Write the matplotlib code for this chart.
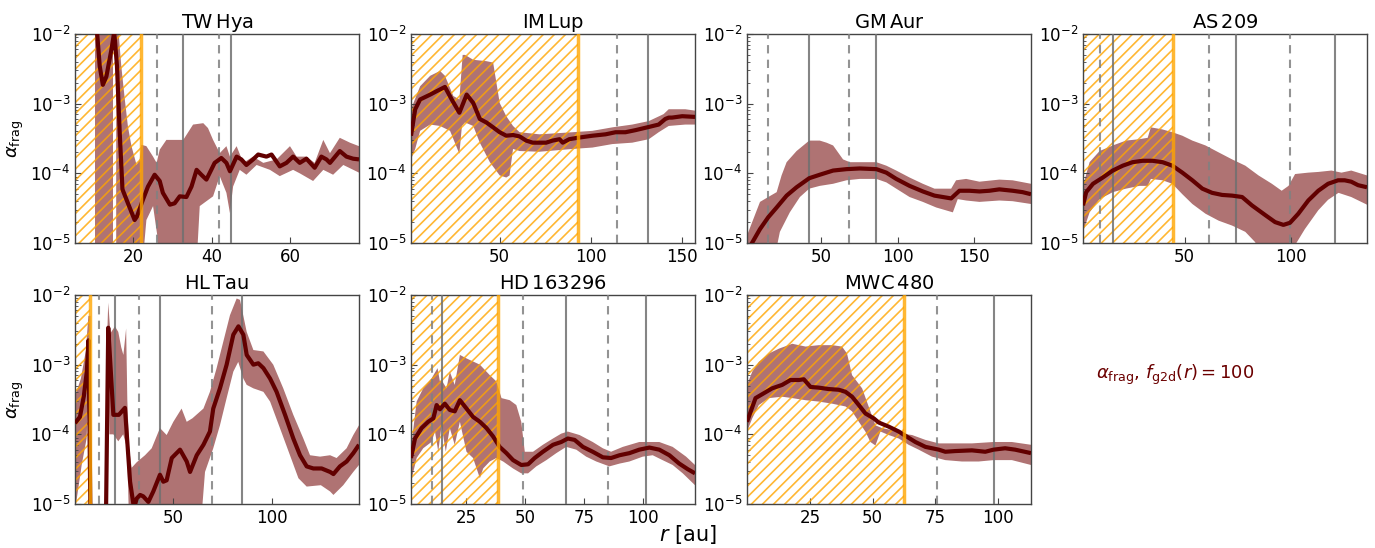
import numpy as np
import matplotlib
matplotlib.use('Agg')
import matplotlib.pyplot as plt
from matplotlib.ticker import LogLocator, NullFormatter, FixedLocator

plt.rcParams['font.family'] = ['DejaVu Sans']
plt.rcParams['mathtext.fontset'] = 'dejavusans'
plt.rcParams['hatch.linewidth'] = 1.2

# ---------------- data: pairs of (r [au], log10 alpha_frag) ----------------
# TW Hya
twhya_line = [(10.3, -1.6), (11.5, -2.46), (12.3, -2.73), (13.2, -2.61), (14.5, -2.22), (15.2, -1.97),
              (15.9, -2.46), (16.6, -3.42), (17.3, -4.23), (18.7, -4.43), (20.4, -4.67), (21.0, -4.62),
              (22.5, -4.38), (23.8, -4.19), (25.5, -4.02), (26.8, -4.11), (27.6, -4.28), (29.4, -4.45),
              (30.6, -4.43), (31.9, -4.33), (33.6, -4.34), (34.9, -4.19), (36.2, -3.95), (37.4, -4.02),
              (38.7, -4.09), (40.8, -3.85), (42.5, -3.78), (43.8, -3.85), (44.7, -3.97), (46.4, -3.76),
              (47.6, -3.80), (48.9, -3.88), (50.6, -3.80), (51.9, -3.73), (54.0, -3.76), (55.3, -3.73),
              (57.4, -3.90), (59.1, -3.85), (60.8, -3.76), (62.5, -3.85), (64.2, -3.79), (66.3, -3.92),
              (68.0, -3.76), (69.3, -3.80), (70.2, -3.85), (72.7, -3.68), (74.4, -3.76), (76.1, -3.79),
              (77.6, -3.80)]
twhya_band1_hi = [(10.2, -1.5), (14.9, -1.5)]
twhya_band1_lo = [(10.2, -5.5), (14.9, -5.5)]
twhya_band2_hi = [(15.7, -1.5), (16.2, -1.9), (17.0, -2.46), (17.9, -2.94), (18.7, -3.33), (19.6, -3.61),
                  (20.9, -3.88), (21.7, -3.80), (22.1, -3.59), (23.4, -3.61), (25.1, -3.76), (26.0, -3.85),
                  (26.8, -3.66), (28.5, -3.52), (32.8, -3.52), (35.3, -3.30), (37.9, -3.28), (39.1, -3.35),
                  (40.4, -3.52), (42.1, -3.71), (43.8, -3.61), (44.7, -3.76), (46.4, -3.61), (48.1, -3.85),
                  (50.6, -3.76), (53.2, -3.85), (56.6, -3.80), (60.0, -3.61), (61.7, -3.76), (64.2, -3.76),
                  (66.3, -3.85), (68.5, -3.52), (70.2, -3.71), (72.7, -3.49), (75.3, -3.56), (77.6, -3.61)]
twhya_band2_lo = [(15.7, -5.5), (22.1, -5.5), (23.4, -4.67), (25.1, -4.47), (26.2, -4.9), (26.8, -5.5),
                  (36.0, -5.5), (37.0, -4.47), (40.4, -4.33), (42.1, -4.04), (43.8, -4.28), (44.7, -4.57),
                  (45.5, -4.19), (47.2, -3.95), (48.9, -4.02), (51.5, -3.88), (54.9, -3.95), (57.4, -4.04),
                  (60.8, -3.95), (62.5, -4.00), (65.9, -4.11), (68.5, -3.95), (71.0, -4.02), (73.6, -3.88),
                  (77.6, -3.99)]
twhya_dashed = [26.0, 41.9]
twhya_solid = [32.8, 44.9]
twhya_edge = 21.9
twhya_xlim = (5.2, 77.6)
twhya_xticks = [20, 40, 60]

# IM Lup
imlup_line = [(1.4, -3.46), (3.7, -3.08), (6.4, -2.94), (11.9, -2.87), (15.5, -2.82), (20.0, -2.76),
              (23.7, -2.94), (27.9, -3.13), (31.9, -2.87), (35.5, -2.99), (39.1, -3.22), (42.7, -3.27),
              (46.4, -3.34), (50.0, -3.41), (53.6, -3.46), (57.3, -3.45), (60.9, -3.47), (64.5, -3.53),
              (68.1, -3.56), (75.4, -3.56), (79.0, -3.53), (82.8, -3.51), (84.5, -3.56), (88.1, -3.51),
              (92.6, -3.49), (100.8, -3.46), (108.0, -3.44), (113.5, -3.41), (118.9, -3.41), (124.4, -3.38),
              (130.8, -3.34), (137.1, -3.30), (140.7, -3.22), (142.6, -3.20), (144.4, -3.20), (150.0, -3.18),
              (157.0, -3.19)]
imlup_hi = [(1.4, -3.08), (6.4, -2.75), (11.9, -2.60), (17.3, -2.53), (20.0, -2.60), (24.6, -2.89),
            (27.9, -2.94), (29.7, -2.30), (31.0, -2.30), (35.5, -2.37), (42.7, -2.39), (46.4, -2.41),
            (50.0, -2.99), (53.6, -3.18), (57.3, -3.32), (60.9, -3.41), (71.8, -3.44), (89.9, -3.41),
            (100.8, -3.39), (111.7, -3.34), (122.6, -3.30), (131.7, -3.25), (139.8, -3.15), (142.6, -3.08),
            (151.7, -3.08), (157.0, -3.10)]
imlup_lo = [(1.4, -3.80), (3.7, -3.65), (6.4, -3.39), (11.9, -3.30), (17.3, -3.32), (22.8, -3.39),
            (27.9, -3.72), (29.3, -3.32), (31.0, -3.27), (35.5, -3.32), (39.1, -3.56), (44.6, -3.84),
            (50.0, -4.03), (53.6, -4.06), (55.4, -4.03), (57.3, -3.65), (60.9, -3.68), (71.8, -3.69),
            (89.9, -3.65), (100.8, -3.63), (111.7, -3.58), (122.6, -3.56), (131.7, -3.51), (137.1, -3.41),
            (142.6, -3.32), (151.7, -3.30), (157.0, -3.30)]
imlup_dashed = [114.4]
imlup_solid = [131.1]
imlup_edge = 92.8
imlup_xlim = (1.4, 157.0)
imlup_xticks = [50, 100, 150]

# GM Aur
gmaur_line = [(1.5, -5.3), (4.3, -5.01), (9.8, -4.80), (15.2, -4.63), (20.7, -4.49), (27.2, -4.32),
              (33.7, -4.20), (42.0, -4.07), (48.9, -4.02), (57.6, -3.96), (66.3, -3.94), (75.0, -3.93),
              (85.9, -3.94), (92.4, -3.99), (98.9, -4.08), (107.6, -4.18), (116.3, -4.26), (123.9, -4.32),
              (134.8, -4.36), (140.2, -4.25), (146.7, -4.25), (153.3, -4.26), (159.8, -4.25), (166.3, -4.23),
              (175.0, -4.25), (181.5, -4.27), (187.0, -4.30)]
gmaur_hi = [(1.7, -4.87), (9.8, -4.41), (15.2, -4.34), (20.7, -4.27), (23.9, -4.03), (27.2, -3.84),
            (33.7, -3.68), (42.0, -3.53), (48.9, -3.53), (53.3, -3.56), (57.6, -3.60), (64.1, -3.80),
            (68.5, -3.84), (75.0, -3.84), (85.9, -3.84), (92.4, -3.89), (98.9, -3.96), (107.6, -4.06),
            (116.3, -4.15), (123.9, -4.22), (134.8, -4.22), (138.0, -4.10), (144.6, -4.08), (153.3, -4.12),
            (166.3, -4.09), (175.0, -4.10), (187.0, -4.15)]
gmaur_lo = [(1.7, -5.3), (18.5, -5.3), (22.8, -4.84), (29.3, -4.56), (35.9, -4.34), (42.0, -4.22),
            (48.9, -4.18), (57.6, -4.15), (66.3, -4.10), (75.0, -4.08), (85.9, -4.08), (92.4, -4.13),
            (98.9, -4.22), (107.6, -4.34), (116.3, -4.41), (125.0, -4.49), (135.9, -4.56), (139.1, -4.37),
            (144.6, -4.39), (153.3, -4.41), (166.3, -4.39), (175.0, -4.40), (187.0, -4.44)]
gmaur_dashed = [15.2, 68.0]
gmaur_solid = [42.0, 85.9]
gmaur_edge = None
gmaur_xlim = (1.3, 187.0)
gmaur_xticks = [50, 100, 150]

# AS 209
as209_line = [(2.2, -4.46), (3.7, -4.27), (6.9, -4.15), (11.5, -4.06), (16.2, -3.96), (20.9, -3.89),
              (25.5, -3.84), (30.2, -3.82), (34.9, -3.82), (39.6, -3.84), (44.2, -3.89), (48.9, -3.99),
              (53.6, -4.10), (58.3, -4.22), (62.9, -4.28), (67.6, -4.31), (72.3, -4.32), (77.0, -4.34),
              (81.6, -4.46), (87.9, -4.60), (92.5, -4.70), (96.4, -4.74), (99.5, -4.71), (103.4, -4.58),
              (108.1, -4.39), (112.8, -4.25), (117.4, -4.15), (122.1, -4.10), (125.2, -4.10), (128.3, -4.12),
              (131.5, -4.17), (135.7, -4.20)]
as209_hi = [(2.2, -4.18), (5.3, -3.84), (10.0, -3.68), (16.2, -3.60), (22.4, -3.53), (28.7, -3.51),
            (32.6, -3.49), (34.1, -3.34), (39.6, -3.37), (44.2, -3.41), (48.9, -3.46), (53.6, -3.53),
            (59.8, -3.60), (66.0, -3.70), (72.3, -3.80), (78.5, -3.89), (84.7, -4.03), (91.0, -4.15),
            (95.6, -4.25), (98.8, -4.18), (101.9, -4.01), (108.1, -3.99), (112.8, -3.98), (119.0, -3.96),
            (123.7, -3.99), (128.3, -3.96), (135.7, -4.03)]
as209_lo = [(2.2, -4.84), (5.3, -4.56), (10.0, -4.37), (16.2, -4.27), (22.4, -4.22), (28.7, -4.18),
            (32.6, -4.18), (34.1, -4.08), (39.6, -4.10), (44.2, -4.15), (48.9, -4.30), (53.6, -4.44),
            (59.8, -4.58), (66.0, -4.68), (72.3, -4.75), (78.5, -4.84), (83.2, -4.99), (84.7, -5.3),
            (98.8, -5.3), (101.9, -5.03), (106.5, -4.80), (112.8, -4.53), (117.4, -4.38), (122.3, -4.28),
            (128.3, -4.34), (135.7, -4.45)]
as209_dashed = [10.3, 61.4, 99.5]
as209_solid = [16.2, 74.1, 120.6]
as209_edge = 44.5
as209_xlim = (2.2, 135.7)
as209_xticks = [50, 100]

# HL Tau
hltau_line1 = [(0.0, -3.84), (2.5, -3.75), (4.5, -3.45), (6.0, -3.10), (6.9, -2.65), (7.9, -5.3)]
hltau_line2 = [(15.7, -5.3), (16.9, -2.47), (18.0, -3.0), (19.5, -3.72), (22.3, -3.72), (25.4, -3.62),
               (28.0, -4.68), (30.0, -5.06), (31.4, -4.92), (33.1, -4.87), (34.7, -4.89), (37.3, -4.97),
               (39.8, -4.82), (43.2, -4.58), (44.9, -4.68), (46.6, -4.66), (49.2, -4.34), (53.4, -4.22),
               (56.8, -4.39), (58.5, -4.54), (61.9, -4.30), (65.3, -4.15), (68.6, -3.96), (70.3, -3.63),
               (73.7, -3.34), (77.1, -3.00), (80.5, -2.57), (83.1, -2.45), (85.6, -2.57), (87.3, -2.86),
               (90.7, -3.00), (93.2, -2.98), (95.8, -3.05), (99.2, -3.20), (102.5, -3.39), (106.8, -3.72),
               (111.0, -4.06), (114.4, -4.30), (117.8, -4.46), (121.2, -4.49), (125.4, -4.49), (129.7, -4.54),
               (131.4, -4.57), (134.7, -4.46), (138.1, -4.39), (141.5, -4.27), (144.4, -4.15)]
hltau_band1_hi = [(0.0, -3.45), (3.0, -3.2), (5.5, -2.8), (6.8, -2.3), (7.9, -2.3)]
hltau_band1_lo = [(0.0, -5.1), (3.4, -4.44), (5.9, -4.06), (7.3, -3.0), (7.9, -3.0)]
hltau_band2_hi = [(15.9, -3.0), (16.9, -2.11), (18.0, -2.55), (20.3, -2.45), (22.0, -2.53), (23.5, -2.75),
                  (24.6, -2.86), (26.0, -2.48), (26.6, -3.5), (27.5, -4.2), (28.8, -4.48), (31.4, -4.40),
                  (35.6, -4.30), (39.0, -4.2), (43.2, -3.91), (46.6, -4.01), (50.0, -3.82), (54.2, -3.63),
                  (56.8, -3.82), (59.7, -3.77), (65.3, -3.63), (68.6, -3.39), (72.0, -3.05), (75.4, -2.67),
                  (78.8, -2.29), (82.2, -2.05), (83.9, -2.07), (87.3, -2.53), (90.7, -2.79), (95.8, -2.81),
                  (100.8, -3.00), (105.9, -3.34), (111.0, -3.72), (116.1, -4.06), (119.5, -4.30),
                  (124.6, -4.32), (129.7, -4.30), (133.0, -4.34), (138.1, -4.20), (141.5, -4.01), (144.4, -3.87)]
hltau_band2_lo = [(15.9, -5.3), (16.9, -2.9), (17.5, -4.0), (19.5, -4.0), (22.0, -4.1), (24.5, -4.0),
                  (26.5, -4.2), (27.5, -5.3), (64.0, -5.3), (66.1, -4.54), (70.3, -4.20), (73.7, -3.87),
                  (77.1, -3.48), (80.5, -3.10), (83.0, -2.96), (85.6, -3.20), (87.3, -3.29), (90.7, -3.34),
                  (95.8, -3.39), (99.2, -3.53), (104.2, -3.91), (109.3, -4.30), (113.6, -4.63), (117.8, -4.75),
                  (125.0, -4.73), (129.7, -4.82), (131.4, -4.87), (136.4, -4.73), (141.5, -4.54), (144.4, -4.44)]
hltau_dashed = [12.2, 32.5, 69.8]
hltau_solid = [20.2, 43.4, 84.7]
hltau_edge = 7.6
hltau_xlim = (0.0, 144.4)
hltau_xticks = [50, 100]

# HD 163296
hd_line = [(1.4, -4.34), (3.1, -4.06), (5.9, -3.91), (8.7, -3.82), (10.9, -3.77), (12.3, -3.58),
           (13.7, -3.64), (15.8, -3.56), (17.9, -3.65), (20.0, -3.67), (22.2, -3.51), (25.0, -3.63),
           (27.8, -3.75), (30.7, -3.82), (33.5, -3.91), (36.3, -4.03), (39.1, -4.18), (42.0, -4.27),
           (44.8, -4.37), (48.3, -4.44), (51.2, -4.43), (54.0, -4.34), (57.5, -4.25), (61.8, -4.15),
           (65.3, -4.11), (68.1, -4.06), (71.0, -4.08), (74.5, -4.18), (78.7, -4.25), (83.0, -4.33),
           (86.5, -4.34), (90.1, -4.30), (94.3, -4.27), (98.5, -4.22), (102.8, -4.19), (107.0, -4.22),
           (111.3, -4.30), (115.5, -4.42), (119.1, -4.50), (122.2, -4.56)]
hd_hi = [(1.4, -4.20), (3.8, -3.53), (6.6, -3.34), (10.1, -3.20), (12.7, -3.05), (13.7, -3.24),
         (14.4, -3.22), (16.5, -3.34), (17.9, -3.10), (20.0, -3.29), (22.2, -2.86), (25.0, -2.91),
         (30.7, -3.00), (34.9, -3.15), (37.7, -3.24), (39.9, -3.48), (43.4, -3.51), (46.2, -3.58),
         (48.3, -3.82), (49.8, -4.25), (53.3, -4.25), (57.5, -4.15), (61.8, -4.06), (65.3, -3.99),
         (68.1, -3.96), (73.1, -4.01), (78.7, -4.11), (83.0, -4.20), (86.5, -4.25), (91.5, -4.18),
         (98.5, -4.11), (107.0, -4.11), (112.7, -4.18), (118.4, -4.32), (122.2, -4.44)]
hd_lo = [(1.4, -4.68), (3.8, -4.34), (6.6, -4.20), (10.1, -4.11), (11.6, -3.96), (13.0, -4.25),
         (14.4, -3.87), (16.2, -4.25), (17.9, -3.91), (20.0, -4.15), (22.2, -3.82), (25.0, -4.25),
         (27.8, -4.34), (30.7, -4.63), (32.1, -4.49), (34.9, -4.39), (37.7, -4.34), (40.6, -4.39),
         (44.8, -4.49), (48.3, -4.56), (51.2, -4.56), (54.7, -4.46), (59.0, -4.37), (63.2, -4.27),
         (67.4, -4.18), (71.7, -4.22), (75.9, -4.32), (80.2, -4.39), (85.8, -4.46), (90.1, -4.42),
         (94.3, -4.39), (100.0, -4.32), (104.2, -4.30), (108.4, -4.37), (112.7, -4.44), (117.0, -4.56),
         (122.2, -4.73)]
hd_dashed = [10.3, 49.0, 85.4]
hd_solid = [14.4, 67.3, 101.4]
hd_edge = 38.4
hd_xlim = (1.4, 122.2)
hd_xticks = [25, 50, 75, 100]

# MWC 480
mwc_line = [(0.0, -3.82), (3.4, -3.48), (6.7, -3.41), (10.0, -3.34), (14.0, -3.29), (17.3, -3.22),
            (20.6, -3.22), (22.6, -3.21), (25.3, -3.32), (28.6, -3.33), (32.5, -3.35), (36.5, -3.36),
            (39.2, -3.39), (41.8, -3.46), (44.5, -3.58), (47.1, -3.70), (50.4, -3.77), (52.4, -3.83),
            (56.4, -3.89), (60.4, -3.96), (63.0, -4.02), (67.0, -4.11), (71.0, -4.18), (76.3, -4.22),
            (78.9, -4.25), (82.9, -4.24), (89.5, -4.23), (94.8, -4.25), (98.1, -4.22), (102.7, -4.20),
            (106.7, -4.22), (113.0, -4.27)]
mwc_hi = [(0.0, -3.29), (2.1, -3.10), (4.7, -2.96), (8.7, -2.84), (12.7, -2.77), (18.0, -2.70),
          (23.3, -2.74), (28.6, -2.72), (33.9, -2.72), (37.8, -2.74), (39.8, -2.84), (41.8, -3.15),
          (45.8, -3.34), (49.1, -3.67), (51.1, -3.87), (53.7, -3.91), (57.7, -3.94), (61.7, -3.99),
          (65.7, -4.01), (71.0, -4.08), (76.3, -4.13), (89.5, -4.13), (98.1, -4.11), (105.4, -4.11),
          (113.0, -4.15)]
mwc_lo = [(0.0, -3.96), (2.1, -3.77), (4.7, -3.58), (8.7, -3.48), (14.0, -3.46), (18.0, -3.48),
          (23.3, -3.51), (28.6, -3.53), (33.9, -3.56), (39.2, -3.60), (41.8, -3.67), (44.5, -3.82),
          (47.1, -3.96), (49.1, -4.11), (51.1, -4.16), (53.1, -3.96), (56.4, -4.01), (60.4, -4.06),
          (64.3, -4.15), (68.3, -4.22), (73.6, -4.32), (78.9, -4.37), (85.5, -4.39), (92.2, -4.39),
          (98.1, -4.37), (105.4, -4.37), (113.0, -4.44)]
mwc_dashed = [75.5]
mwc_solid = [98.3]
mwc_edge = 62.5
mwc_xlim = (0.0, 113.0)
mwc_xticks = [25, 50, 75, 100]

titles = ['TW$\\,$Hya', 'IM$\\,$Lup', 'GM$\\,$Aur', 'AS$\\,$209',
          'HL$\\,$Tau', 'HD$\\,$163296', 'MWC$\\,$480']
ytick_values = [1e-5, 1e-4, 1e-3, 1e-2]
ylim = (1e-5, 1e-2)
legend_label = r'$\alpha_{\rm frag}$, $f_{\rm g2d}(r) = 100$'
xlabel = r'$r$ [au]'
ylabel = r'$\alpha_{\rm frag}$'

panels = [
    dict(lines=[twhya_line], bands=[(twhya_band1_hi, twhya_band1_lo), (twhya_band2_hi, twhya_band2_lo)],
         dashed=twhya_dashed, solid=twhya_solid, edge=twhya_edge, xlim=twhya_xlim, xticks=twhya_xticks),
    dict(lines=[imlup_line], bands=[(imlup_hi, imlup_lo)],
         dashed=imlup_dashed, solid=imlup_solid, edge=imlup_edge, xlim=imlup_xlim, xticks=imlup_xticks),
    dict(lines=[gmaur_line], bands=[(gmaur_hi, gmaur_lo)],
         dashed=gmaur_dashed, solid=gmaur_solid, edge=gmaur_edge, xlim=gmaur_xlim, xticks=gmaur_xticks),
    dict(lines=[as209_line], bands=[(as209_hi, as209_lo)],
         dashed=as209_dashed, solid=as209_solid, edge=as209_edge, xlim=as209_xlim, xticks=as209_xticks),
    dict(lines=[hltau_line1, hltau_line2], bands=[(hltau_band1_hi, hltau_band1_lo), (hltau_band2_hi, hltau_band2_lo)],
         dashed=hltau_dashed, solid=hltau_solid, edge=hltau_edge, xlim=hltau_xlim, xticks=hltau_xticks),
    dict(lines=[hd_line], bands=[(hd_hi, hd_lo)],
         dashed=hd_dashed, solid=hd_solid, edge=hd_edge, xlim=hd_xlim, xticks=hd_xticks),
    dict(lines=[mwc_line], bands=[(mwc_hi, mwc_lo)],
         dashed=mwc_dashed, solid=mwc_solid, edge=mwc_edge, xlim=mwc_xlim, xticks=mwc_xticks),
]

LINE_C = '#620000'
BAND_C = '#6e0000'
ORANGE = '#FFA500'
SPINE_C = '#444444'


def unzip(pairs):
    a = np.array(pairs, dtype=float)
    return a[:, 0], 10.0 ** a[:, 1]


W, H = 1375, 548
fig = plt.figure(figsize=(W / 100, H / 100), dpi=100)
col_left = [75, 411, 747, 1083]
row_top = [34, 295]
ax_w, ax_h = 284, 209

for i, p in enumerate(panels):
    r, c = divmod(i, 4)
    ax = fig.add_axes([col_left[c] / W, (H - row_top[r] - ax_h) / H, ax_w / W, ax_h / H])
    ax.set_yscale('log')
    # band
    for hi, lo in p['bands']:
        xh, yh = unzip(hi)
        xl, yl = unzip(lo)
        ax.fill(np.concatenate([xh, xl[::-1]]), np.concatenate([yh, yl[::-1]]),
                color=BAND_C, alpha=0.55, lw=0, zorder=1)
    # hatched region and orange edge
    if p['edge'] is not None:
        ax.axvspan(p['xlim'][0] - 10, p['edge'], facecolor='none', edgecolor=ORANGE,
                   alpha=0.8, hatch='///', lw=0, zorder=2)
        ax.axvline(p['edge'], color=ORANGE, lw=2.5, alpha=0.8, zorder=5)
    for xv in p['solid']:
        ax.axvline(xv, color='#707070', lw=1.5, alpha=0.85, zorder=3)
    for xv in p['dashed']:
        ax.axvline(xv, color='#808080', lw=1.5, ls=(0, (4, 3)), alpha=0.85, zorder=3)
    for ln in p['lines']:
        x, y = unzip(ln)
        ax.plot(x, y, color=LINE_C, lw=3, zorder=4, solid_capstyle='butt')
    ax.set_xlim(*p['xlim'])
    ax.set_ylim(*ylim)
    ax.set_xticks(p['xticks'])
    ax.yaxis.set_major_locator(FixedLocator(ytick_values))
    ax.yaxis.set_minor_locator(LogLocator(base=10, subs=np.arange(2, 10), numticks=20))
    ax.yaxis.set_minor_formatter(NullFormatter())
    ax.tick_params(which='both', direction='in', labelsize=12, colors='black')
    ax.tick_params(which='major', length=4, width=0.8, color=SPINE_C)
    ax.tick_params(which='minor', length=2, width=0.6, color=SPINE_C)
    for s in ax.spines.values():
        s.set_color(SPINE_C)
        s.set_linewidth(1.0)
    ax.set_title(titles[i], fontsize=14, pad=4)
    if c == 0:
        ax.set_ylabel(ylabel, fontsize=13, labelpad=3)

fig.text(1175 / W, 1 - 375 / H, legend_label, color='#6b0000', fontsize=13, ha='center', va='center')
fig.text(0.5, 0.003, xlabel, fontsize=15, ha='center', va='bottom')

fig.savefig('out.png', dpi=100)
